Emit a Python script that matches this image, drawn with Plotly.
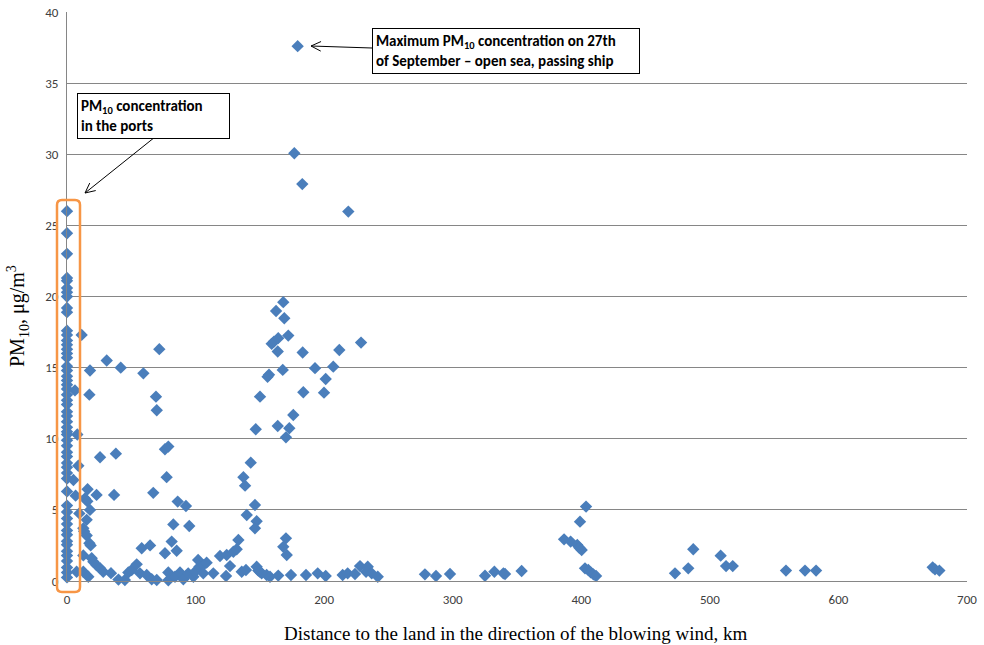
import math
import plotly.graph_objects as go

# PM10 concentrations measured in the ports (distance ~0 km)
port_dist = [0] * 55
port_pm10 = [26.0, 24.45, 23.0, 21.3, 21.1, 20.6, 20.3, 20.0, 19.2, 18.9, 17.6, 17.3, 16.9,
             16.6, 16.3, 16.0, 15.7, 15.1, 14.8, 14.4, 14.1, 13.8, 13.5, 13.1, 12.7, 12.4,
             11.9, 11.6, 11.2, 10.8, 10.5, 10.3, 9.9, 9.5, 9.05, 8.75, 8.3, 8.0, 7.6, 7.2,
             6.3, 5.3, 4.85, 4.4, 4.0, 3.55, 3.25, 2.8, 2.55, 2.1, 1.8, 1.4, 0.95, 0.6, 0.25]

# Measurements at sea
sea_dist = [6.2, 17.4, 11.4, 17.9, 30.9, 41.8, 59.4, 71.8, 69.2, 69.8,
            8, 8.8, 25.7, 38, 5, 16, 23, 36.6, 6.7, 14, 15.8, 17.9, 9.6, 15.3, 12.7, 13.3, 15.3,
            17.4, 18.4, 12.7, 19.2, 20.5, 23, 25.7, 28.2, 7.5, 12.7, 16.6, 34.2, 40, 45, 47.7,
            50.3, 54.2, 56.8, 58.1, 64.6, 62, 65.9, 69.8, 67.1, 76.2, 78.8, 77.5, 86.1, 92.5,
            82.7, 95.1, 81.4, 76.2, 85.3, 78.8, 78.8, 84, 87.9, 90.5, 94.3, 98.3, 99.6, 102,
            103, 106, 108.6, 106, 113.8, 119, 124.2, 123.7, 126.8, 129.4, 132, 133.3, 135.9,
            139.2, 137.2, 138.5, 142.9, 146.2, 139.8, 147.5, 146.2, 146.8, 150.1, 147.5, 148.8,
            150.1, 151.4, 155.3, 157.9, 164.3, 174.2, 163.9, 170.3, 172.9, 176, 170.3, 168.2,
            170.9, 168.2, 162.6, 169, 172.1, 159.2, 161, 164.3, 163.9, 167.8, 183.3, 192.9,
            207.1, 211.8, 228.7, 201.2, 199.9, 183.8, 157.1, 156,
            179.4, 176.8, 183, 218.8,
            185.9, 195, 201.2, 214.4, 218.3, 224, 227.9, 233.9, 232.6, 237, 241.7,
            278.4, 287, 297.9, 325.1, 332.4, 339.4, 340.7, 353.6,
            386.6, 391.7, 396.9, 398.5, 400.3, 399, 403.7, 402.9, 405.5, 407.3, 409.4, 411.5,
            472.9, 483.2, 487.1, 508.4, 512.6, 517.8, 559.2, 574, 582.6, 673.3, 675.1, 678.5]
sea_pm10 = [13.4, 13.1, 17.3, 14.8, 15.5, 15.0, 14.6, 16.3, 12.96, 12.0,
            10.3, 8.1, 8.7, 8.95, 7.1, 6.45, 6.05, 6.05, 6.0, 5.8, 5.6, 5.0, 4.75, 4.3, 3.7, 3.5, 3.2,
            2.65, 2.5, 1.8, 1.6, 1.35, 1.1, 0.9, 0.65, 0.65, 0.65, 0.3, 0.55, 0.1, 0.07, 0.6,
            0.77, 1.17, 0.54, 2.3, 2.5, 0.42, 0.12, 0.07, 6.2, 9.26, 9.45, 7.3, 5.58, 5.27,
            3.98, 3.87, 2.77, 1.95, 2.13, 0.6, 0.05, 0.3, 0.6, 0.12, 0.54, 0.3, 0.65, 1.48,
            1.0, 1.12, 1.29, 0.54, 0.54, 1.76, 1.83, 0.35, 1.05, 2.06, 2.23, 2.88, 0.65,
            0.77, 7.3, 6.7, 8.32, 5.34, 4.64, 4.2, 3.7, 10.67, 12.96, 1.0, 0.73,
            0.65, 0.54, 0.42, 0.3, 0.38, 0.42, 10.9, 10.1, 10.74, 11.67, 3.0, 2.4,
            1.83, 19.6, 18.98, 18.47, 17.25, 16.67, 16.83, 17.07, 16.13, 14.84, 16.06, 14.96,
            15.07, 16.24, 16.76, 14.2, 13.24, 13.27, 14.5, 14.35,
            37.6, 30.07, 27.9, 25.97,
            0.42, 0.54, 0.35, 0.42, 0.54, 0.49, 1.05, 1.0, 0.65, 0.54, 0.3,
            0.47, 0.35, 0.49, 0.37, 0.65, 0.54, 0.49, 0.7,
            2.93, 2.77, 2.53, 2.34, 2.18, 4.17, 5.23, 0.89, 0.77, 0.61, 0.47, 0.35,
            0.54, 0.89, 2.23, 1.78, 1.05, 1.05, 0.73, 0.73, 0.73, 0.96, 0.82, 0.73]

y_ticks = [0, 5, 10, 15, 20, 25, 30, 35, 40]
x_ticks = [0, 100, 200, 300, 400, 500, 600, 700]

W, H = 984, 645
L, R, T, B = 67, 17, 12, 64
PW, PH = W - L - R, H - T - B


def px(xp):
    return (xp - L) / PW


def py(yp):
    return (H - B - yp) / PH


calibri = "Carlito, Calibri, 'Liberation Sans', Arial"
tick_font = dict(family=calibri, size=13, color="#404040")
ann_font = dict(family=calibri, size=15, color="black")
serif = "'Liberation Serif', 'Times New Roman', serif"

fig = go.Figure()
fig.add_trace(go.Scatter(
    x=port_dist + sea_dist, y=port_pm10 + sea_pm10, mode="markers",
    marker=dict(symbol="diamond", size=9.5, color="#4A7EBB"),
    cliponaxis=False, showlegend=False, hoverinfo="x+y"))

# Rounded orange box around port measurements
x0, x1, y0, y1 = px(57), px(80), py(592), py(200)
rx, ry = 5 / PW, 5 / PH
path = (f"M {x0+rx},{y0} L {x1-rx},{y0} Q {x1},{y0} {x1},{y0+ry} "
        f"L {x1},{y1-ry} Q {x1},{y1} {x1-rx},{y1} L {x0+rx},{y1} Q {x0},{y1} {x0},{y1-ry} "
        f"L {x0},{y0+ry} Q {x0},{y0} {x0+rx},{y0} Z")
fig.add_shape(type="path", path=path, xref="paper", yref="paper",
              line=dict(color="#F79646", width=2.5))


def arrow(tail, head):
    # line plus open arrowhead, in pixel coordinates of the page
    (tx, ty), (hx, hy) = tail, head
    fig.add_shape(type="line", xref="paper", yref="paper",
                  x0=px(tx), y0=py(ty), x1=px(hx), y1=py(hy),
                  line=dict(color="black", width=1))
    ang = math.atan2(ty - hy, tx - hx)
    for d in (0.45, -0.45):
        ex = hx + 11 * math.cos(ang + d)
        ey = hy + 11 * math.sin(ang + d)
        fig.add_shape(type="line", xref="paper", yref="paper",
                      x0=px(hx), y0=py(hy), x1=px(ex), y1=py(ey),
                      line=dict(color="black", width=1))


arrow((155, 137), (85, 193))
arrow((372, 48), (311, 46))

# Text boxes
fig.add_annotation(x=px(77), y=py(93), xref="paper", yref="paper", xanchor="left", yanchor="top",
                   text="<b>PM<sub>10</sub> concentration<br>in the ports</b>", showarrow=False,
                   align="left", font=ann_font, bordercolor="black", borderwidth=1, borderpad=3,
                   bgcolor="white", width=145, height=38)
fig.add_annotation(x=px(372), y=py(28), xref="paper", yref="paper", xanchor="left", yanchor="top",
                   text="<b>Maximum PM<sub>10</sub> concentration on 27th<br>of September – open sea, passing ship</b>",
                   showarrow=False, align="left", font=ann_font, bordercolor="black", borderwidth=1,
                   borderpad=3, bgcolor="white", width=260, height=38)

# Axis titles
fig.add_annotation(x=px(18), y=py(316), xref="paper", yref="paper", textangle=-90,
                   xanchor="center", yanchor="middle",
                   text="PM<sub>10</sub>, μg/m<sup>3</sup>", showarrow=False,
                   font=dict(family=serif, size=20, color="black"))
fig.add_annotation(x=px(516), y=py(633), xref="paper", yref="paper",
                   xanchor="center", yanchor="middle",
                   text="Distance to the land in the direction of the blowing wind, km",
                   showarrow=False, font=dict(family=serif, size=19, color="black"))

fig.update_layout(
    width=W, height=H, margin=dict(l=L, r=R, t=T, b=B, autoexpand=False),
    paper_bgcolor="white", plot_bgcolor="white",
    xaxis=dict(range=[0, 700], tickvals=x_ticks, showgrid=False, zeroline=False, automargin=False,
               showline=True, linecolor="#868686", linewidth=1, ticks="outside", ticklen=6,
               tickcolor="rgba(0,0,0,0)", tickfont=tick_font),
    yaxis=dict(range=[0, 40], tickvals=y_ticks, showgrid=True, gridcolor="#868686", gridwidth=1,
               zeroline=False, showline=True, linecolor="#868686", linewidth=1, automargin=False,
               ticks="outside", ticklen=5, tickcolor="rgba(0,0,0,0)", tickfont=tick_font),
)

fig.write_html("out.html", config={"displayModeBar": False},
               post_script="document.body.style.margin='0';")
